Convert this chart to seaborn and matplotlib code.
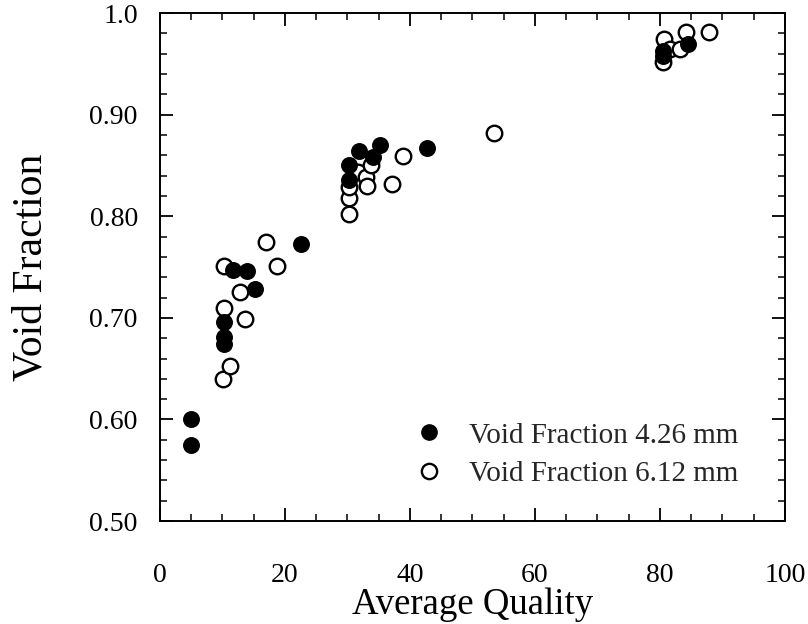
import matplotlib
matplotlib.use("Agg")
import matplotlib.pyplot as plt
from matplotlib.ticker import MultipleLocator, FixedLocator, FixedFormatter
from matplotlib.lines import Line2D
import seaborn as sns
import pandas as pd

# Average quality (%) and measured void fraction, 4.26 mm tube
q_426 = [5.0, 5.0, 10.2, 10.2, 10.2, 11.7, 13.9, 15.2, 22.5,
         30.2, 30.2, 31.8, 34.1, 35.2, 42.7,
         80.5, 80.5, 84.5]
a_426 = [0.600, 0.575, 0.696, 0.681, 0.674, 0.747, 0.746, 0.728, 0.773,
         0.836, 0.850, 0.864, 0.858, 0.870, 0.867,
         0.963, 0.958, 0.970]

# Average quality (%) and measured void fraction, 6.12 mm tube
q_612 = [10.1, 11.2, 10.2, 13.6, 12.8, 10.2, 18.7, 17.0,
         30.3, 30.3, 30.2, 31.7, 33.0, 33.2, 33.7, 37.1, 38.9, 53.4,
         80.6, 80.5, 81.6, 83.2, 84.2, 87.8]
a_612 = [0.640, 0.653, 0.710, 0.699, 0.725, 0.751, 0.751, 0.775,
         0.802, 0.818, 0.829, 0.844, 0.839, 0.830, 0.850, 0.832, 0.859, 0.882,
         0.975, 0.952, 0.965, 0.965, 0.981, 0.981]

label_426 = "Void Fraction 4.26 mm"
label_612 = "Void Fraction 6.12 mm"

y_ticks = [0.5, 0.6, 0.7, 0.8, 0.9, 1.0]
y_tick_labels = ["0.50", "0.60", "0.70", "0.80", "0.90", "1.0"]

sns.set_theme(style="ticks")
plt.rcParams["font.family"] = ["Liberation Serif", "DejaVu Serif"]

fig = plt.figure(figsize=(8.08, 6.24), dpi=100)
ax = fig.add_axes([0.198, 0.165, 0.7735, 0.814])

df_612 = pd.DataFrame({"q": q_612, "a": a_612})
df_426 = pd.DataFrame({"q": q_426, "a": a_426})

sns.scatterplot(data=df_612, x="q", y="a", ax=ax, s=125, marker="o",
                facecolor="white", edgecolor="black", linewidth=1.7, zorder=3)
sns.scatterplot(data=df_426, x="q", y="a", ax=ax, s=125, marker="o",
                color="black", edgecolor="black", linewidth=1.0, zorder=4)

ax.set_xlim(0, 100)
ax.set_ylim(0.5, 1.0)
ax.xaxis.set_major_locator(MultipleLocator(20))
ax.xaxis.set_minor_locator(MultipleLocator(5))
ax.yaxis.set_major_locator(FixedLocator(y_ticks))
ax.yaxis.set_major_formatter(FixedFormatter(y_tick_labels))
ax.yaxis.set_minor_locator(MultipleLocator(0.02))

ax.tick_params(which="both", direction="in", top=True, right=True,
               color="black", labelsize=20, labelcolor="black")
ax.tick_params(which="major", length=9.5, width=1.3)
ax.tick_params(which="minor", length=5, width=1.1)
ax.tick_params(axis="x", which="major", pad=30)
ax.tick_params(axis="y", which="major", pad=16)
for sp in ax.spines.values():
    sp.set_linewidth(1.4)
    sp.set_color("black")

ax.set_xlabel("Average Quality", fontsize=26.5, color="black", labelpad=0)
ax.set_ylabel("Void Fraction", fontsize=30, color="black", labelpad=28)

handles = [
    Line2D([], [], marker="o", linestyle="none", markersize=11,
           markerfacecolor="black", markeredgecolor="black"),
    Line2D([], [], marker="o", linestyle="none", markersize=11,
           markerfacecolor="white", markeredgecolor="black", markeredgewidth=1.7),
]
ax.legend(handles, [label_426, label_612], loc="center left",
          bbox_to_anchor=(0.383, 0.131), frameon=False, fontsize=21,
          handlelength=2.0, handletextpad=0.4, labelspacing=0.4,
          borderpad=0, borderaxespad=0)

fig.savefig("out.png", dpi=100, facecolor="white")
